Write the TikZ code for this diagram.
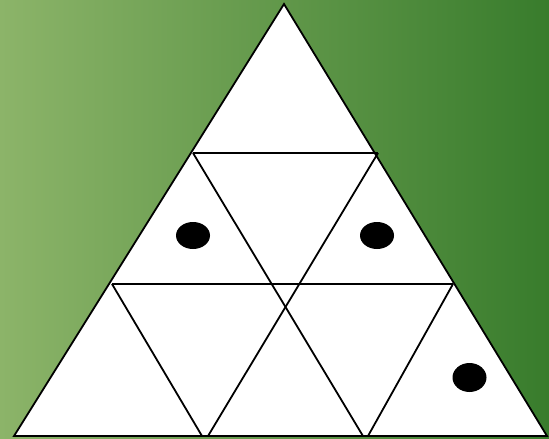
\documentclass[tikz,border=0pt]{standalone}
\usetikzlibrary{calc}
\definecolor{gleft}{RGB}{140,180,105}
\definecolor{gright}{RGB}{56,124,44}
\tikzset{edge/.style={draw=black,line width=1.8pt,line join=miter},
         dot/.style={fill=black}}
\begin{document}
\begin{tikzpicture}[x=1pt,y=-1pt]
\useasboundingbox (0,0) rectangle (549,439);
\shade[left color=gleft,right color=gright] (0,0) rectangle (549,439);
% main vertices
\coordinate (T) at (284,4);
\coordinate (BL) at (14,436);
\coordinate (BR) at (547,436);
\coordinate (L1) at (193,153);
\coordinate (R1) at (378,153);
\coordinate (L2) at (112,284);
\coordinate (R2) at (453,284);
\coordinate (B1) at (202,436);
\coordinate (B2) at (208,436);
\coordinate (B3) at (363,436);
\coordinate (B4) at (368,436);
\fill[white] (T) -- (BR) -- (BL) -- cycle;
\draw[edge] (T) -- (BR) -- (BL) -- cycle;
\draw[edge] (L1) -- (R1);
\draw[edge] (L2) -- (R2);
\draw[edge] (L1) -- (B3);
\draw[edge] (R1) -- (B2);
\draw[edge] (L2) -- (B1);
\draw[edge] (R2) -- (B4);
\fill[dot] (193,235.5) ellipse [x radius=17, y radius=13.5];
\fill[dot] (377,235.5) ellipse [x radius=17, y radius=13.5];
\fill[dot] (469.5,377.5) ellipse [x radius=17, y radius=14.5];
\end{tikzpicture}
\end{document}
